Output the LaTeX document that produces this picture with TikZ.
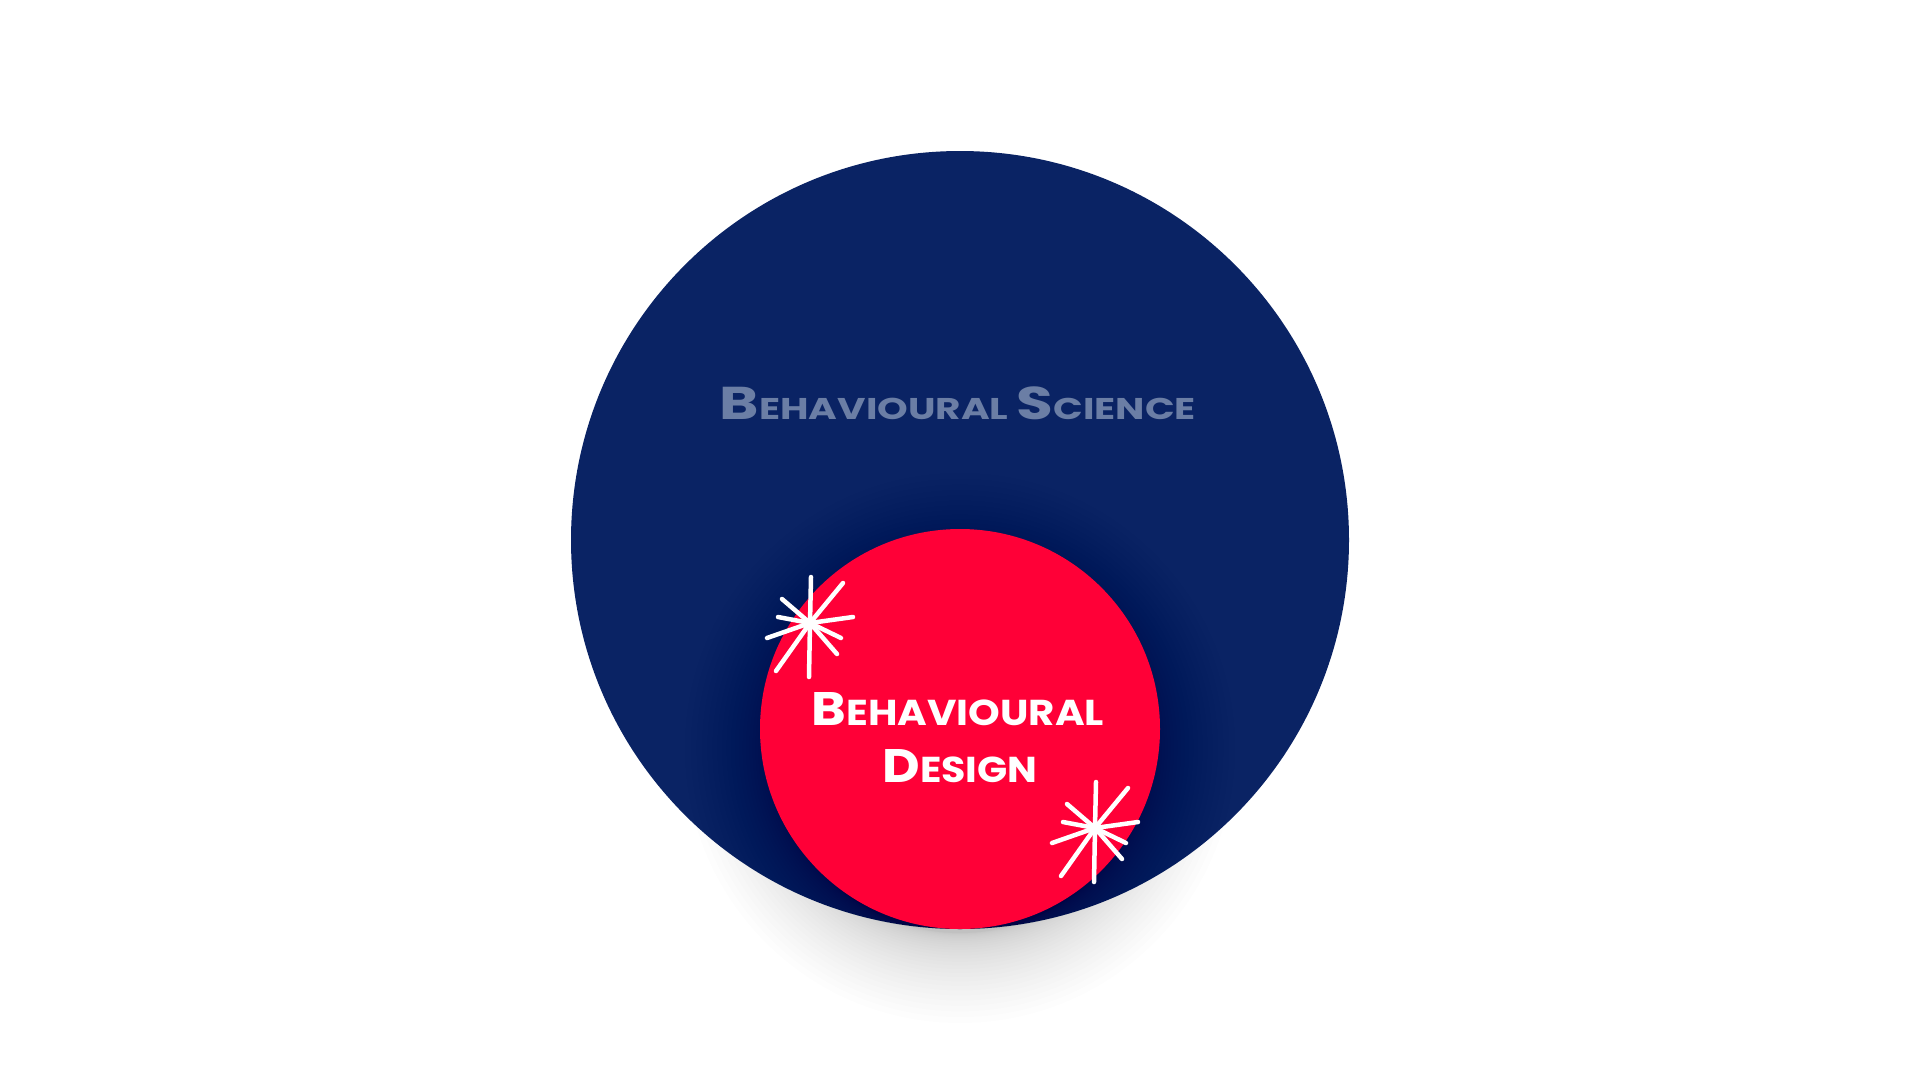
\documentclass[tikz,border=0pt]{standalone}
\usepackage{fontspec}
\newfontfamily\handfont{Poppins}
\definecolor{navy}{RGB}{10,35,100}
\definecolor{brightred}{RGB}{255,0,55}
\definecolor{labelgrey}{RGB}{107,126,165}
\newcommand\bigL[1]{{\fontsize{46}{46}\selectfont #1}}
\newcommand\smlL[1]{{\fontsize{30}{30}\selectfont #1}}
\newcommand\bigW[1]{{\fontsize{47}{47}\selectfont #1}}
\newcommand\smlW[1]{{\fontsize{36}{36}\selectfont #1}}
\tikzset{
  disc/.style={circle, inner sep=0pt, draw=none},
  ray/.style={white, line width=4.5pt, line cap=round},
  sparkle/.pic={
    \foreach \dx/\dy in {1/-46, -1/54, 33/-40, -34/48, -28/-24, 27/31, -32/-6, 43/-6, -43/15, 31/15}
      \draw[ray] (0,0) -- (\dx,\dy);
  },
  label/.style={font=\handfont\bfseries, anchor=base, inner sep=0pt}
}
\begin{document}
\begin{tikzpicture}[x=1pt,y=-1pt]
\useasboundingbox[fill=white] (0,0) rectangle (1920,1080);
% big circle
\node[disc, fill=navy, minimum size=778pt] (science) at (960,540) {};
% soft shadow of the small circle
\foreach \i in {0,...,30} {
  \pgfmathsetmacro\rr{185+90*(\i/30)^2}
  \fill[black, opacity=0.0095] (960,748) circle[radius=\rr pt];
}
% small circle
\node[disc, fill=brightred, minimum size=400pt] (design) at (960,729) {};
% labels
\node[label, text=labelgrey] (sciencelabel) at (958,419)
  {\scalebox{1.30}[1]{\bigL{B}\smlL{EHAVIOURAL }\bigL{S}\smlL{CIENCE}}};
\node[label, text=white] (designlabel1) at (958,725)
  {\scalebox{1.12}[1]{\bigW{B}\smlW{EHAVIOURAL}}};
\node[label, text=white] (designlabel2) at (960,782)
  {\scalebox{1.1}[1]{\bigW{D}\smlW{ESIGN}}};
% sparkles
\pic (sparkA) at (810,623) {sparkle};
\pic (sparkB) at (1095,828) {sparkle};
\end{tikzpicture}
\end{document}
